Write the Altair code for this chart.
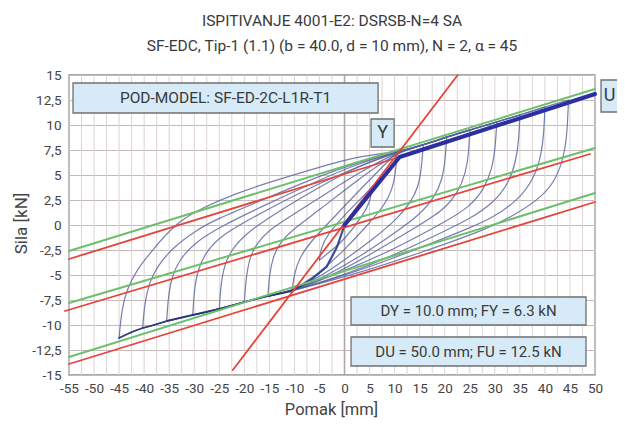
import altair as alt
import pandas as pd

FONT = "Roboto"
TXT = "#3a3a3a"

# ---- axis ticks / grid ----
X_LABELS = list(range(-55, 51, 5))
X_GRID = [v / 2 for v in range(-110, 101, 5)]
Y_TICKS = [v / 2 for v in range(-30, 31, 5)]

# ---- hysteresis: envelopes (D mm, F kN) ----
ENV_UP = [(10.5, 7.3), (15.7, 8.0), (20.4, 8.8), (25.0, 9.5), (30.4, 10.3),
          (35.0, 11.0), (40.0, 11.8), (44.7, 12.5)]
ENV_DN = [(-10.5, -6.6), (-15.3, -7.1), (-20.0, -7.7), (-25.0, -8.4), (-30.3, -9.0),
          (-35.5, -9.6), (-38.0, -10.0), (-40.3, -10.3), (-42.5, -10.7), (-45.0, -11.3)]

# rising branches (from negative peak towards Y)
RISE_45 = [(-45.0, -11.3), (-44.5, -8.5), (-43.5, -6.5), (-41.5, -4.5), (-38.5, -2.6), (-33.5, 0.3),
           (-28.0, 1.8), (-22.0, 3.1), (-15.5, 4.2), (-5.0, 5.8), (3.0, 6.9), (10.5, 7.3)]
RISE_40 = [(-40.3, -10.3), (-39.9, -7.8), (-39.0, -5.8), (-37.5, -4.2), (-34.2, -2.2), (-29.5, -0.5),
           (-26.0, 0.5), (-15.0, 2.8), (-5.0, 4.9), (3.0, 6.3), (10.5, 7.3)]
RISE_35 = [(-35.5, -9.6), (-35.2, -7.2), (-34.5, -5.2), (-33.0, -3.5), (-30.0, -1.8), (-25.0, -0.2),
           (-15.0, 2.2), (-5.0, 4.5), (3.0, 6.2), (10.5, 7.3)]
RISE_30 = [(-30.3, -9.0), (-30.0, -6.5), (-29.3, -4.5), (-27.8, -2.8), (-25.0, -1.2), (-20.0, 0.3),
           (-10.0, 3.0), (0.0, 5.3), (10.5, 7.3)]
RISE_25 = [(-25.0, -8.4), (-24.7, -6.0), (-24.0, -4.0), (-22.5, -2.4), (-19.5, -0.8), (-15.0, 0.8),
           (-5.0, 3.8), (3.0, 6.0), (10.5, 7.3)]
RISE_20 = [(-20.0, -7.7), (-19.7, -5.5), (-19.0, -3.3), (-17.5, -1.8), (-15.0, -0.5), (-12.0, 0.5),
           (-5.0, 2.7), (2.0, 5.0), (10.5, 7.3)]
RISE_15 = [(-15.3, -7.1), (-15.0, -5.0), (-14.3, -3.2), (-13.0, -1.8), (-10.0, -0.3), (-5.0, 1.5),
           (2.0, 4.3), (10.5, 7.3)]
RISE_10 = [(-10.5, -6.6), (-10.0, -4.8), (-9.0, -3.3), (-7.0, -1.8), (-3.0, 0.3), (3.0, 3.5), (10.5, 7.3)]
RISE_5 = [(-5.0, -3.5), (-4.7, -2.3), (-3.5, -1.0), (0.0, 1.0), (3.0, 2.5), (5.5, 3.8)]

# falling branches (from positive peak towards the negative convergence point)
FALL_45 = [(44.7, 12.5), (44.5, 9.8), (44.0, 7.3), (42.5, 4.8), (39.5, 2.8), (34.0, 1.0), (28.0, -0.5),
           (15.0, -2.8), (3.0, -4.8), (-10.5, -6.6)]
FALL_40 = [(40.0, 11.8), (39.8, 9.3), (39.3, 7.0), (37.8, 4.6), (34.5, 2.4), (29.5, 0.7), (25.0, -0.3),
           (15.0, -2.3), (5.0, -4.2), (-3.0, -5.5), (-10.5, -6.6)]
FALL_35 = [(35.0, 11.0), (34.8, 8.5), (34.2, 6.3), (32.7, 4.1), (29.7, 2.2), (25.0, 0.6), (20.0, -0.6),
           (10.0, -3.0), (0.0, -5.0), (-10.5, -6.6)]
FALL_30 = [(30.4, 10.3), (30.1, 7.8), (29.5, 5.7), (28.0, 3.7), (25.0, 1.8), (20.0, 0.3), (10.0, -2.4),
           (0.0, -4.6), (-10.5, -6.6)]
FALL_25 = [(25.0, 9.5), (24.8, 7.2), (24.2, 5.2), (22.7, 3.3), (19.8, 1.5), (15.0, 0.0), (5.0, -3.0),
           (-3.0, -5.2), (-10.5, -6.6)]
FALL_20 = [(20.4, 8.8), (20.1, 6.5), (19.5, 4.5), (18.0, 2.8), (15.0, 1.0), (10.0, -0.8), (3.0, -3.2),
           (-4.0, -5.2), (-10.5, -6.6)]
FALL_15 = [(15.7, 8.0), (15.4, 5.8), (14.8, 3.9), (13.3, 2.3), (10.5, 0.6), (6.0, -1.3), (0.0, -3.5),
           (-5.0, -5.2), (-10.5, -6.6)]
FALL_10 = [(10.5, 7.3), (10.2, 5.2), (9.5, 3.5), (8.0, 2.0), (5.0, 0.2), (0.0, -2.5), (-5.0, -4.8),
           (-10.5, -6.6)]
FALL_5 = [(5.5, 3.8), (5.2, 2.5), (4.0, 1.2), (0.0, -1.5), (-3.0, -2.7), (-5.0, -3.5)]

# amplitude -> (rise, index of +peak in ENV_UP, fall, index of -peak in ENV_DN)
CYCLES = {
    5: (RISE_5, None, FALL_5, None),
    10: (RISE_10, 0, FALL_10, 0),
    15: (RISE_15, 1, FALL_15, 1),
    20: (RISE_20, 2, FALL_20, 2),
    25: (RISE_25, 3, FALL_25, 3),
    30: (RISE_30, 4, FALL_30, 4),
    35: (RISE_35, 5, FALL_35, 5),
    40: (RISE_40, 6, FALL_40, 7),
    45: (RISE_45, 7, FALL_45, 9),
}

# backbone (bilinear) and negative initial branch
BACKBONE = [(0.0, 0.0), (11.0, 6.8), (50.0, 13.1)]
NEG_BRANCH = [(0.0, 0.0), (-1.5, -2.2), (-3.6, -4.2), (-6.5, -5.4), (-10.5, -6.6)]

# straight reference lines
RED_LINES = {
    "elastic": [(-22.3, -14.5), (22.6, 15.0)],
    "r_up": [(-55.0, -3.4), (11.0, 6.8)],
    "r_mid": [(-55.8, -8.6), (49.0, 7.1)],
    "r_low": [(-55.0, -13.9), (50.0, 2.3)],
}
GREEN_LINES = {
    "g_up": [(-55.0, -2.6), (50.0, 13.6)],
    "g_mid": [(-55.0, -7.8), (50.0, 7.7)],
    "g_low": [(-55.0, -13.2), (50.0, 3.2)],
}

# annotation boxes (data coords) and labels
BOX_NAMES = ["pod", "y", "u", "dy", "du"]
BOX_X = [-54.2, 5.3, 51.2, 1.3, 1.3]
BOX_X2 = [6.7, 9.9, 54.6, 48.2, 48.2]
BOX_Y = [14.2, 10.6, 14.5, -7.2, -11.2]
BOX_Y2 = [11.2, 7.8, 11.3, -10.0, -14.1]
BOX_TEXT = ["POD-MODEL: SF-ED-2C-L1R-T1", "Y", "U",
            "DY = 10.0 mm; FY = 6.3 kN", "DU = 50.0 mm; FU = 12.5 kN"]
BOX_FS = [15.5, 18, 18, 15, 15]


def to_df(named):
    rows = []
    for name, pts in named.items():
        for i, (d, f) in enumerate(pts):
            rows.append({"id": name, "i": i, "D": d, "F": f})
    return pd.DataFrame(rows)


branches = {}
for amp, (rise, pi, fall, ni) in CYCLES.items():
    up = list(rise) + (ENV_UP[1:pi + 1] if pi else [])
    dn = list(fall) + (ENV_DN[1:ni + 1] if ni else [])
    branches[f"up{amp}"] = up
    branches[f"dn{amp}"] = dn

curves_df = to_df(branches)
env_df = to_df({"envdn": ENV_DN})
bb_df = to_df({"bb": BACKBONE})
neg_df = to_df({"neg": NEG_BRANCH})
red_df = to_df(RED_LINES)
green_df = to_df(GREEN_LINES)
box_df = pd.DataFrame({"name": BOX_NAMES, "x": BOX_X, "x2": BOX_X2, "y": BOX_Y, "y2": BOX_Y2,
                       "label": BOX_TEXT, "fs": BOX_FS,
                       "tx": [(a + b) / 2 for a, b in zip(BOX_X, BOX_X2)],
                       "ty": [(a + b) / 2 for a, b in zip(BOX_Y, BOX_Y2)]})
grid_df = pd.DataFrame({"D": X_GRID})
zero_df = pd.DataFrame({"D": [0.0]})

xs = alt.Scale(domain=[-55, 50], nice=False, zero=False)
ys = alt.Scale(domain=[-15, 15], nice=False, zero=False)

x_axis = alt.Axis(values=X_LABELS, labelExpr="toString(datum.value)",
                  labelOverlap=False, labelFlush=False, labelSeparation=0, ticks=False,
                  tickSize=0, labelPadding=6, domain=False, grid=False, labelFont=FONT,
                  labelFontSize=13.5, labelColor="#444", title="Pomak [mm]", titleFont=FONT,
                  titleFontSize=16.5, titleFontWeight="normal", titleColor="#444", titleX=262,
                  titleY=39, titleBaseline="alphabetic", titleAlign="center")
y_axis = alt.Axis(values=Y_TICKS, labelExpr="replace(toString(datum.value), '.', ',')",
                  labelOverlap=False, ticks=False, tickSize=0, labelPadding=8, domain=False,
                  grid=True, gridColor="#c6b9b9", gridWidth=1.2, labelFont=FONT, labelFontSize=13.5,
                  labelColor="#444", title="Sila [kN]", titleFont=FONT, titleFontSize=17,
                  titleFontWeight="normal", titleColor="#444", titleX=-43, titleY=148,
                  titleAngle=270, titleBaseline="alphabetic", titleAlign="center")


def X(field):
    return alt.X(field, scale=xs, axis=x_axis)


def Y(field):
    return alt.Y(field, scale=ys, axis=y_axis)


grid_x = alt.Chart(grid_df).mark_rule(color="#ddd3d3", strokeWidth=1).encode(x=X("D:Q"))
zero_rule = alt.Chart(zero_df).mark_rule(color="#b3a6a6", strokeWidth=1.6).encode(x=X("D:Q"))


def line_layer(df, color, width, opacity=1.0, interp="linear"):
    return alt.Chart(df).mark_line(color=color, strokeWidth=width, opacity=opacity,
                                   strokeCap="round", strokeJoin="round",
                                   interpolate=interp).encode(
        x=X("D:Q"), y=Y("F:Q"), detail="id:N", order="i:Q")


curves = line_layer(curves_df, "#55609a", 1.2, 0.8, "basis")
env_line = line_layer(env_df, "#243070", 1.8, 0.85)
neg_line = line_layer(neg_df, "#283a8a", 2.2, 0.9)
greens = line_layer(green_df, "#6cc06c", 2.0)
reds = line_layer(red_df, "#e5443a", 1.8)
backbone = line_layer(bb_df, "#2b2fa2", 4.0)

boxes = alt.Chart(box_df).mark_rect(fill="#d6ebf7", stroke="#707070", strokeWidth=1.3).encode(
    x=X("x:Q"), x2="x2:Q", y=Y("y:Q"), y2="y2:Q")
box_text = alt.Chart(box_df).mark_text(font=FONT, color=TXT, baseline="middle", align="center").encode(
    x=X("tx:Q"), y=Y("ty:Q"), text="label:N", size=alt.Size("fs:Q", scale=None))

chart = alt.layer(grid_x, zero_rule, curves, env_line, neg_line, greens, reds,
                  backbone, boxes, box_text).properties(
    width=526, height=300,
    autosize=alt.AutoSizeParams(type="none"),
    padding={"left": 61, "top": 67, "right": 22, "bottom": 43},
    title=alt.TitleParams(
        text=["ISPITIVANJE 4001-E2: DSRSB-N=4 SA",
              "SF-EDC, Tip-1 (1.1) (b = 40.0, d = 10 mm), N = 2, α = 45"],
        font=FONT, fontSize=15.5, fontWeight="normal", color=TXT, anchor="middle",
        lineHeight=25, offset=14)
).configure_view(stroke="#8a8a8a", strokeWidth=1.5).configure_axis(
    labelOverlap=False, labelFlush=False)

chart.save("out.html", embed_options={"renderer": "svg", "actions": False})
